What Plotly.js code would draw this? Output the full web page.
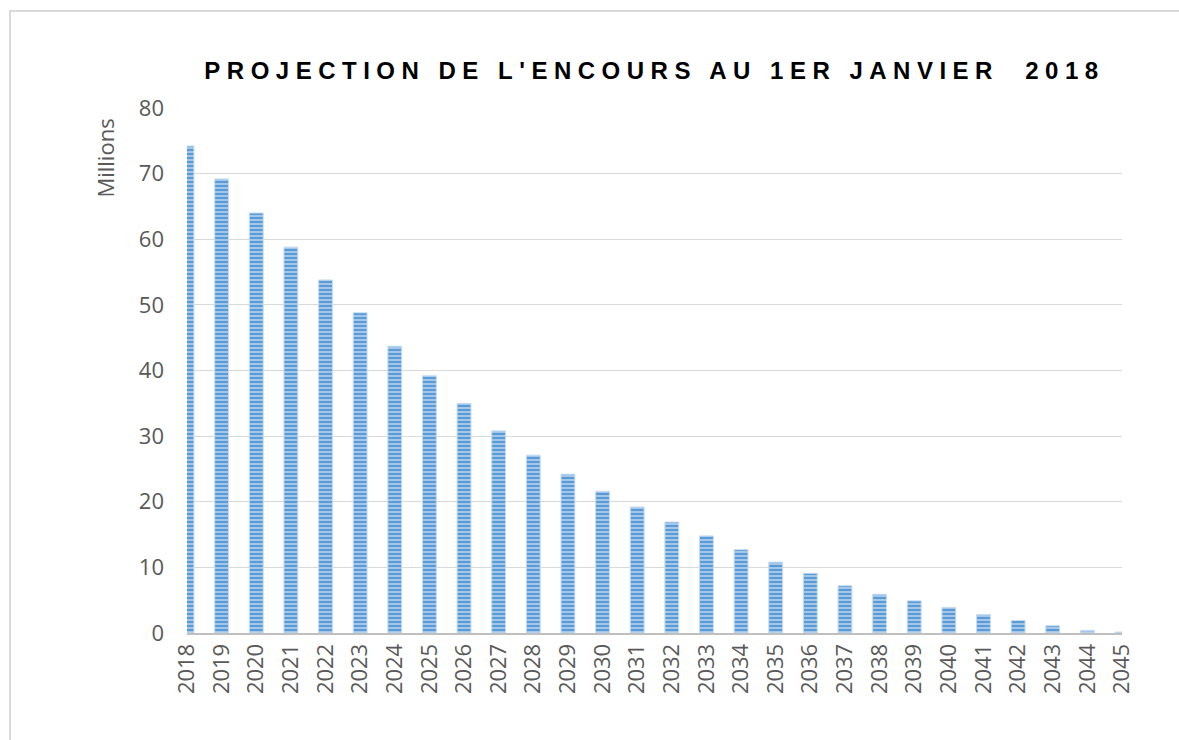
<!DOCTYPE html>
<html>
<head>
<meta charset="utf-8">
<script src="https://cdn.plot.ly/plotly-3.0.1.min.js"></script>
<style>
  body { margin: 0; background: #fff; }
  #frame { position: absolute; left: 9px; top: 10px; right: -5px; bottom: -5px;
           border-left: 2px solid #d9d9d9; border-top: 2px solid #d9d9d9; pointer-events: none; }
  #chart { position: absolute; left: 0; top: 0; width: 1179px; height: 740px; }
  .gtitle { letter-spacing: 6.5px; }
</style>
</head>
<body>
<div id="chart"></div>
<div id="frame"></div>
<script>
// years of the projection
var years = ['2018', '2019', '2020', '2021', '2022', '2023', '2024', '2025', '2026', '2027',
  '2028', '2029', '2030', '2031', '2032', '2033', '2034', '2035', '2036', '2037',
  '2038', '2039', '2040', '2041', '2042', '2043', '2044', '2045'];

// outstanding amount, millions
var encours = [74.2, 69.2, 64.0, 58.8, 53.8, 48.8, 43.7, 39.2, 35.0, 30.8,
  27.1, 24.2, 21.6, 19.2, 16.9, 14.8, 12.7, 10.8, 9.1, 7.2,
  5.9, 4.9, 3.9, 2.8, 1.9, 1.1, 0.4, 0.15];

var yTicks = [0, 10, 20, 30, 40, 50, 60, 70, 80];

var trace = {
  x: years,
  y: encours,
  type: 'bar',
  marker: {
    color: '#6fa7dd',
    line: { color: '#c5dcf2', width: 1 },
    pattern: { shape: '-', fgcolor: '#5b9bd5', bgcolor: '#a3c7ea', size: 4, solidity: 0.5 }
  },
  hoverinfo: 'x+y'
};

var layout = {
  width: 1179,
  height: 740,
  margin: { l: 187, r: 57, t: 108, b: 107 },
  paper_bgcolor: 'rgba(0,0,0,0)',
  plot_bgcolor: '#fff',
  showlegend: false,
  bargap: 0.6,
  title: {
    text: "PROJECTION DE L'ENCOURS AU 1ER JANVIER  2018",
    font: { family: 'Liberation Sans', size: 24, color: '#000', weight: 'bold' },
    x: 0.5, xref: 'paper', xanchor: 'center',
    y: 0.905, yref: 'container', yanchor: 'middle'
  },
  xaxis: {
    type: 'category',
    range: [0, 27],
    tickangle: -90,
    tickfont: { family: 'Open Sans', size: 22, color: '#595959' },
    showgrid: false,
    showline: true,
    linecolor: '#bfbfbf',
    linewidth: 2,
    ticks: '',
    fixedrange: true
  },
  yaxis: {
    range: [0, 80],
    tickvals: yTicks,
    tickfont: { family: 'Open Sans', size: 22, color: '#595959' },
    showgrid: true,
    gridcolor: '#d9d9d9',
    gridwidth: 1,
    zeroline: false,
    showline: false,
    ticks: '',
    ticklabelstandoff: 22,
    fixedrange: true
  },
  annotations: [{
    text: 'Millions',
    textangle: -90,
    xref: 'paper', yref: 'paper',
    x: -0.088, y: 0.905,
    xanchor: 'center', yanchor: 'middle',
    showarrow: false,
    font: { family: 'Open Sans', size: 22, color: '#595959' }
  }]
};

Plotly.newPlot('chart', [trace], layout, { displayModeBar: false, staticPlot: true });
</script>
</body>
</html>
